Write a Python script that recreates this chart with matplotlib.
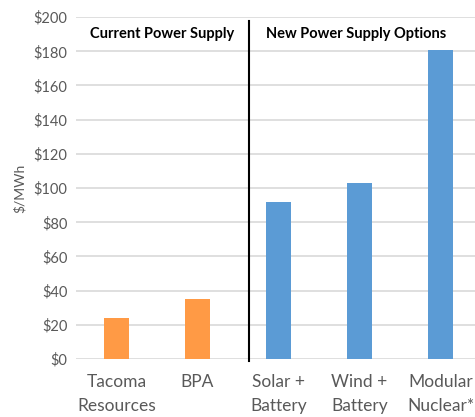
import matplotlib.pyplot as plt

# Levelized cost by supply source
categories = ["Tacoma\nResources", "BPA", "Solar +\nBattery", "Wind +\nBattery", "Modular\nNuclear*"]
costs = [24, 35, 92, 103, 181]
bar_colors = ["#FF9A45", "#FF9A45", "#5B9BD5", "#5B9BD5", "#5B9BD5"]
y_ticks = [0, 20, 40, 60, 80, 100, 120, 140, 160, 180, 200]

plt.rcParams["font.family"] = ["Lato", "DejaVu Sans"]

fig = plt.figure(figsize=(4.75, 4.17), dpi=100)
ax = fig.add_axes([0.16, 0.139, 0.853, 0.82])

x = list(range(len(categories)))
ax.bar(x, costs, width=0.31, color=bar_colors, zorder=3)

ax.set_xlim(-0.5, 4.5)
ax.set_ylim(0, 200)
ax.set_yticks(y_ticks)
ax.set_yticklabels([f"${v}" for v in y_ticks], color="#595959", fontsize=10.5)
ax.set_xticks(x)
ax.set_xticklabels(categories, color="#595959", fontsize=12.5, linespacing=1.6)
ax.tick_params(axis="both", length=0)
ax.tick_params(axis="x", pad=11)
ax.tick_params(axis="y", pad=6)
ax.set_ylabel("$/MWh", color="#595959", fontsize=10, labelpad=6)

ax.grid(axis="y", color="#D9D9D9", linewidth=1.2, zorder=0)
for s in ax.spines.values():
    s.set_visible(False)

# divider between current and new supply
ax.plot([1.636, 1.636], [-1.2, 198], color="black", linewidth=1.5, clip_on=False, zorder=4)

ax.text(0.56, 190, "Current Power Supply", ha="center", va="center", fontsize=10.5, fontweight="bold")
ax.text(2.96, 190, "New Power Supply Options", ha="center", va="center", fontsize=10.5, fontweight="bold")

plt.savefig("out.png", dpi=100)
plt.close()
